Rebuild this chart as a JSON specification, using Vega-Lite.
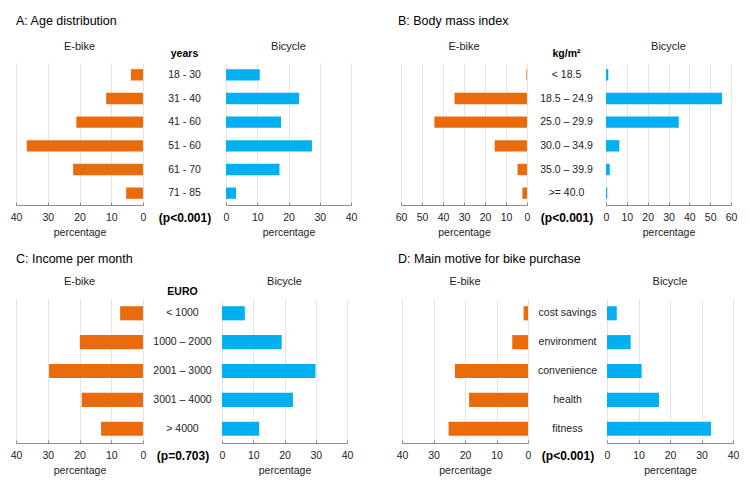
{
  "$schema": "https://vega.github.io/schema/vega-lite/v6.json",
  "background": "white",
  "padding": {"left": 10, "top": 14, "right": 5, "bottom": 5},
  "config": {
    "font": "Liberation Sans",
    "view": {"stroke": null},
    "axis": {
      "labelFont": "Liberation Sans", "labelFontSize": 10.5, "labelColor": "#222",
      "titleFont": "Liberation Sans", "titleFontSize": 10.5, "titleFontWeight": "normal", "titleColor": "#222",
      "domainColor": "#8c8c8c", "tickColor": "#8c8c8c", "gridColor": "#e4e4e4",
      "labelFlush": false, "labelOverlap": false, "tickSize": -3, "labelPadding": 10, "titlePadding": 5
    },
    "title": {"font": "Liberation Sans", "fontSize": 11, "fontWeight": "normal", "color": "#222"},
    "text": {"font": "Liberation Sans", "fontSize": 10.5, "color": "#222"}
  },
  "datasets": {
    "age": [
      {"cat": "18 - 30", "vehicle": "E-bike", "pct": 3.8}, {"cat": "18 - 30", "vehicle": "Bicycle", "pct": 10.8},
      {"cat": "31 - 40", "vehicle": "E-bike", "pct": 11.6}, {"cat": "31 - 40", "vehicle": "Bicycle", "pct": 23.4},
      {"cat": "41 - 60", "vehicle": "E-bike", "pct": 21.0}, {"cat": "41 - 60", "vehicle": "Bicycle", "pct": 17.6},
      {"cat": "51 - 60", "vehicle": "E-bike", "pct": 36.6}, {"cat": "51 - 60", "vehicle": "Bicycle", "pct": 27.5},
      {"cat": "61 - 70", "vehicle": "E-bike", "pct": 22.0}, {"cat": "61 - 70", "vehicle": "Bicycle", "pct": 17.1},
      {"cat": "71 - 85", "vehicle": "E-bike", "pct": 5.3}, {"cat": "71 - 85", "vehicle": "Bicycle", "pct": 3.2}
    ],
    "bmi": [
      {"cat": "< 18.5", "vehicle": "E-bike", "pct": 0.3}, {"cat": "< 18.5", "vehicle": "Bicycle", "pct": 1.1},
      {"cat": "18.5 – 24.9", "vehicle": "E-bike", "pct": 34.5}, {"cat": "18.5 – 24.9", "vehicle": "Bicycle", "pct": 55.7},
      {"cat": "25.0 – 29.9", "vehicle": "E-bike", "pct": 44.1}, {"cat": "25.0 – 29.9", "vehicle": "Bicycle", "pct": 34.9},
      {"cat": "30.0 – 34.9", "vehicle": "E-bike", "pct": 15.4}, {"cat": "30.0 – 34.9", "vehicle": "Bicycle", "pct": 6.4},
      {"cat": "35.0 – 39.9", "vehicle": "E-bike", "pct": 4.5}, {"cat": "35.0 – 39.9", "vehicle": "Bicycle", "pct": 1.8},
      {"cat": ">= 40.0", "vehicle": "E-bike", "pct": 2.2}, {"cat": ">= 40.0", "vehicle": "Bicycle", "pct": 0.6}
    ],
    "income": [
      {"cat": "< 1000", "vehicle": "E-bike", "pct": 7.2}, {"cat": "< 1000", "vehicle": "Bicycle", "pct": 7.3},
      {"cat": "1000 – 2000", "vehicle": "E-bike", "pct": 19.9}, {"cat": "1000 – 2000", "vehicle": "Bicycle", "pct": 19.1},
      {"cat": "2001 – 3000", "vehicle": "E-bike", "pct": 29.6}, {"cat": "2001 – 3000", "vehicle": "Bicycle", "pct": 29.9},
      {"cat": "3001 – 4000", "vehicle": "E-bike", "pct": 19.3}, {"cat": "3001 – 4000", "vehicle": "Bicycle", "pct": 22.7},
      {"cat": "> 4000", "vehicle": "E-bike", "pct": 13.2}, {"cat": "> 4000", "vehicle": "Bicycle", "pct": 11.9}
    ],
    "motive": [
      {"cat": "cost savings", "vehicle": "E-bike", "pct": 1.4}, {"cat": "cost savings", "vehicle": "Bicycle", "pct": 3.1},
      {"cat": "environment", "vehicle": "E-bike", "pct": 5.0}, {"cat": "environment", "vehicle": "Bicycle", "pct": 7.5},
      {"cat": "convenience", "vehicle": "E-bike", "pct": 23.2}, {"cat": "convenience", "vehicle": "Bicycle", "pct": 11.0},
      {"cat": "health", "vehicle": "E-bike", "pct": 18.7}, {"cat": "health", "vehicle": "Bicycle", "pct": 16.5},
      {"cat": "fitness", "vehicle": "E-bike", "pct": 25.2}, {"cat": "fitness", "vehicle": "Bicycle", "pct": 33.0}
    ]
  },
  "spacing": 14,
  "vconcat": [
    {
      "spacing": 38,
      "hconcat": [
        {
          "title": {"text": "A: Age distribution", "anchor": "start", "frame": "group", "fontSize": 12.5, "color": "#000", "offset": 14},
          "spacing": 0, "bounds": "flush",
          "hconcat": [
            {
              "width": 127, "height": 142,
              "data": {"name": "age"},
              "title": {"text": "E-bike", "offset": 11},
              "transform": [{"filter": "datum.vehicle === 'E-bike'"}],
              "mark": {"type": "bar", "color": "#E96B0C"},
              "encoding": {
                "y": {"field": "cat", "type": "nominal", "sort": null, "scale": {"paddingInner": 0.52, "paddingOuter": 0.26}, "axis": null},
                "x": {"field": "pct", "type": "quantitative", "scale": {"domain": [0, 40], "reverse": true, "nice": false}, "axis": {"title": "percentage", "values": [0, 10, 20, 30, 40], "grid": true}}
              }
            },
            {
              "width": 83, "height": 142,
              "data": {"name": "age"},
              "title": {"text": "years", "fontWeight": "bold", "fontSize": 10.5, "offset": 4, "color": "#000"},
              "transform": [{"filter": "datum.vehicle === 'E-bike'"}],
              "mark": {"type": "text"},
              "encoding": {
                "y": {"field": "cat", "type": "nominal", "sort": null, "scale": {"paddingInner": 0.52, "paddingOuter": 0.26},
                  "axis": {"title": "(p<0.001)", "labels": false, "ticks": false, "domain": false, "titleAngle": 0, "titleX": 41.5, "titleY": 154, "titleAlign": "center", "titleBaseline": "middle", "titleFontWeight": "bold", "titleFontSize": 12, "titleColor": "#000"}},
                "text": {"field": "cat"}
              }
            },
            {
              "width": 125, "height": 142,
              "data": {"name": "age"},
              "title": {"text": "Bicycle", "offset": 11},
              "transform": [{"filter": "datum.vehicle === 'Bicycle'"}],
              "mark": {"type": "bar", "color": "#00B0F0"},
              "encoding": {
                "y": {"field": "cat", "type": "nominal", "sort": null, "scale": {"paddingInner": 0.52, "paddingOuter": 0.26}, "axis": null},
                "x": {"field": "pct", "type": "quantitative", "scale": {"domain": [0, 40], "nice": false}, "axis": {"title": "percentage", "values": [0, 10, 20, 30, 40], "grid": true}}
              }
            }
          ]
        },
        {
          "title": {"text": "B: Body mass index", "anchor": "start", "frame": "group", "fontSize": 12.5, "color": "#000", "offset": 14, "dx": -3},
          "spacing": 0, "bounds": "flush",
          "hconcat": [
            {
              "width": 126, "height": 142,
              "data": {"name": "bmi"},
              "title": {"text": "E-bike", "offset": 11},
              "transform": [{"filter": "datum.vehicle === 'E-bike'"}],
              "mark": {"type": "bar", "color": "#E96B0C"},
              "encoding": {
                "y": {"field": "cat", "type": "nominal", "sort": null, "scale": {"paddingInner": 0.52, "paddingOuter": 0.26}, "axis": null},
                "x": {"field": "pct", "type": "quantitative", "scale": {"domain": [0, 60], "reverse": true, "nice": false}, "axis": {"title": "percentage", "values": [0, 10, 20, 30, 40, 50, 60], "grid": true}}
              }
            },
            {
              "width": 79, "height": 142,
              "data": {"name": "bmi"},
              "title": {"text": "kg/m²", "fontWeight": "bold", "fontSize": 10.5, "offset": 4, "color": "#000"},
              "transform": [{"filter": "datum.vehicle === 'E-bike'"}],
              "mark": {"type": "text"},
              "encoding": {
                "y": {"field": "cat", "type": "nominal", "sort": null, "scale": {"paddingInner": 0.52, "paddingOuter": 0.26},
                  "axis": {"title": "(p<0.001)", "labels": false, "ticks": false, "domain": false, "titleAngle": 0, "titleX": 39.5, "titleY": 154, "titleAlign": "center", "titleBaseline": "middle", "titleFontWeight": "bold", "titleFontSize": 12, "titleColor": "#000"}},
                "text": {"field": "cat"}
              }
            },
            {
              "width": 125, "height": 142,
              "data": {"name": "bmi"},
              "title": {"text": "Bicycle", "offset": 11},
              "transform": [{"filter": "datum.vehicle === 'Bicycle'"}],
              "mark": {"type": "bar", "color": "#00B0F0"},
              "encoding": {
                "y": {"field": "cat", "type": "nominal", "sort": null, "scale": {"paddingInner": 0.52, "paddingOuter": 0.26}, "axis": null},
                "x": {"field": "pct", "type": "quantitative", "scale": {"domain": [0, 60], "nice": false}, "axis": {"title": "percentage", "values": [0, 10, 20, 30, 40, 50, 60], "grid": true}}
              }
            }
          ]
        }
      ]
    },
    {
      "spacing": 43,
      "hconcat": [
        {
          "title": {"text": "C: Income per month", "anchor": "start", "frame": "group", "fontSize": 12.5, "color": "#000", "offset": 11},
          "spacing": 0, "bounds": "flush",
          "hconcat": [
            {
              "width": 127, "height": 144,
              "data": {"name": "income"},
              "title": {"text": "E-bike", "offset": 12},
              "transform": [{"filter": "datum.vehicle === 'E-bike'"}],
              "mark": {"type": "bar", "color": "#E96B0C"},
              "encoding": {
                "y": {"field": "cat", "type": "nominal", "sort": null, "scale": {"paddingInner": 0.51, "paddingOuter": 0.25}, "axis": null},
                "x": {"field": "pct", "type": "quantitative", "scale": {"domain": [0, 40], "reverse": true, "nice": false}, "axis": {"title": "percentage", "values": [0, 10, 20, 30, 40], "grid": true}}
              }
            },
            {
              "width": 79, "height": 144,
              "data": {"name": "income"},
              "title": {"text": "EURO", "fontWeight": "bold", "fontSize": 10.5, "offset": 2, "color": "#000"},
              "transform": [{"filter": "datum.vehicle === 'E-bike'"}],
              "mark": {"type": "text"},
              "encoding": {
                "y": {"field": "cat", "type": "nominal", "sort": null, "scale": {"paddingInner": 0.51, "paddingOuter": 0.25},
                  "axis": {"title": "(p=0.703)", "labels": false, "ticks": false, "domain": false, "titleAngle": 0, "titleX": 39.5, "titleY": 156, "titleAlign": "center", "titleBaseline": "middle", "titleFontWeight": "bold", "titleFontSize": 12, "titleColor": "#000"}},
                "text": {"field": "cat"}
              }
            },
            {
              "width": 125, "height": 144,
              "data": {"name": "income"},
              "title": {"text": "Bicycle", "offset": 12},
              "transform": [{"filter": "datum.vehicle === 'Bicycle'"}],
              "mark": {"type": "bar", "color": "#00B0F0"},
              "encoding": {
                "y": {"field": "cat", "type": "nominal", "sort": null, "scale": {"paddingInner": 0.51, "paddingOuter": 0.25}, "axis": null},
                "x": {"field": "pct", "type": "quantitative", "scale": {"domain": [0, 40], "nice": false}, "axis": {"title": "percentage", "values": [0, 10, 20, 30, 40], "grid": true}}
              }
            }
          ]
        },
        {
          "title": {"text": "D: Main motive for bike purchase", "anchor": "start", "frame": "group", "fontSize": 12.5, "color": "#000", "offset": 11, "dx": -4},
          "spacing": 0, "bounds": "flush",
          "hconcat": [
            {
              "width": 126, "height": 144,
              "data": {"name": "motive"},
              "title": {"text": "E-bike", "offset": 12},
              "transform": [{"filter": "datum.vehicle === 'E-bike'"}],
              "mark": {"type": "bar", "color": "#E96B0C"},
              "encoding": {
                "y": {"field": "cat", "type": "nominal", "sort": null, "scale": {"paddingInner": 0.51, "paddingOuter": 0.25}, "axis": null},
                "x": {"field": "pct", "type": "quantitative", "scale": {"domain": [0, 40], "reverse": true, "nice": false}, "axis": {"title": "percentage", "values": [0, 10, 20, 30, 40], "grid": true}}
              }
            },
            {
              "width": 79, "height": 144,
              "data": {"name": "motive"},
              "transform": [{"filter": "datum.vehicle === 'E-bike'"}],
              "mark": {"type": "text"},
              "encoding": {
                "y": {"field": "cat", "type": "nominal", "sort": null, "scale": {"paddingInner": 0.51, "paddingOuter": 0.25},
                  "axis": {"title": "(p<0.001)", "labels": false, "ticks": false, "domain": false, "titleAngle": 0, "titleX": 39.5, "titleY": 156, "titleAlign": "center", "titleBaseline": "middle", "titleFontWeight": "bold", "titleFontSize": 12, "titleColor": "#000"}},
                "text": {"field": "cat"}
              }
            },
            {
              "width": 126, "height": 144,
              "data": {"name": "motive"},
              "title": {"text": "Bicycle", "offset": 12},
              "transform": [{"filter": "datum.vehicle === 'Bicycle'"}],
              "mark": {"type": "bar", "color": "#00B0F0"},
              "encoding": {
                "y": {"field": "cat", "type": "nominal", "sort": null, "scale": {"paddingInner": 0.51, "paddingOuter": 0.25}, "axis": null},
                "x": {"field": "pct", "type": "quantitative", "scale": {"domain": [0, 40], "nice": false}, "axis": {"title": "percentage", "values": [0, 10, 20, 30, 40], "grid": true}}
              }
            }
          ]
        }
      ]
    }
  ]
}
